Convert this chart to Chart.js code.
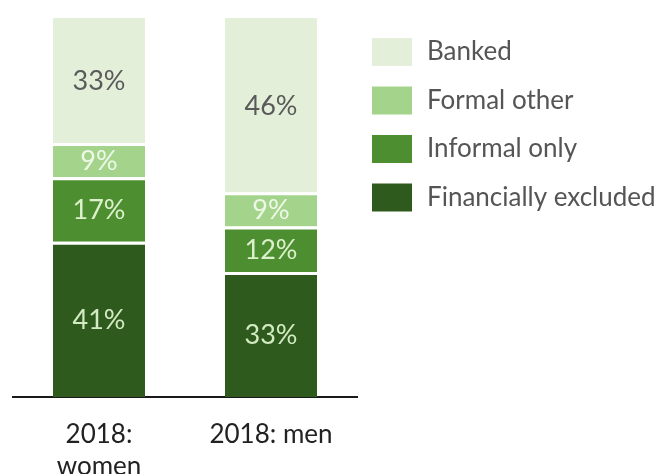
<!DOCTYPE html>
<html>
<head>
<meta charset="utf-8">
<script src="https://cdn.jsdelivr.net/npm/chart.js@4"></script>
<style>
  html, body { margin: 0; padding: 0; background: #fff; overflow: hidden; }
  #wrap { position: relative; width: 661px; height: 498px; }
</style>
</head>
<body>
<div id="wrap"><canvas id="access-chart"></canvas></div>
<script>
// categories and shares (%), bottom segment first
const groups = [["2018:", "women"], "2018: men"]
const excluded = [41, 33]
const informalOnly = [17, 12]
const formalOther = [9, 9]
const banked = [33, 46]

const seriesNames = ["Financially excluded", "Informal only", "Formal other", "Banked"]
const fills = ["#2e5a1d", "#4c8e30", "#a4d48c", "#e3efd9"]
const labelColors = ["#d3ebc2", "#dcf0cc", "#eef8e6", "#5a5a5a"]

const fontFamily = "Lato, 'Open Sans', sans-serif"

// percentage printed in the middle of each segment
const valueLabels = {
    id: 'valueLabels',
    afterDatasetsDraw(chart) {
        const c = chart.ctx
        c.save()
        c.font = `27px ${fontFamily}`
        c.textAlign = 'center'
        c.textBaseline = 'middle'
        chart.data.datasets.forEach((ds, i) => {
            chart.getDatasetMeta(i).data.forEach((bar, j) => {
                c.fillStyle = labelColors[i]
                c.fillText(ds.data[j] + '%', bar.x, (bar.y + bar.base) / 2 + 1)
            })
        })
        c.restore()
    }
}

// legend column to the right of the bars, top series first
const sideLegend = {
    id: 'sideLegend',
    afterDraw(chart) {
        const c = chart.ctx
        const left = 372, top = 38, step = 48.5
        c.save()
        c.font = `26px ${fontFamily}`
        c.textBaseline = 'middle'
        c.textAlign = 'left'
        const order = chart.data.datasets.map((ds, i) => i).reverse()
        order.forEach((i, row) => {
            const y = top + row * step
            c.fillStyle = fills[i]
            c.fillRect(left, y, 40, 28)
            c.fillStyle = '#555'
            c.fillText(chart.data.datasets[i].label, left + 55, y + 14)
        })
        c.restore()
    }
}

const series = [excluded, informalOnly, formalOther, banked]
const datasets = series.map((values, i) => ({
    label: seriesNames[i],
    data: values,
    backgroundColor: fills[i],
    borderColor: '#ffffff',
    borderWidth: i < 3 ? { top: 3, left: 0, right: 0, bottom: 0 } : 0,
    borderSkipped: 'start',
    barPercentage: 0.535,
    categoryPercentage: 1
}))

new Chart(document.getElementById('access-chart'), {
    type: 'bar',
    data: { labels: groups, datasets: datasets },
    options: {
        responsive: true,
        maintainAspectRatio: false,
        animation: false,
        layout: { padding: { left: 13, right: 304, top: 18, bottom: -7 } },
        plugins: {
            legend: { display: false },
            tooltip: { enabled: false }
        },
        scales: {
            x: {
                stacked: true,
                grid: { display: false, drawTicks: false },
                border: { display: true, color: '#1a1a1a', width: 2 },
                ticks: {
                    color: '#222',
                    padding: 22,
                    font: { family: fontFamily, size: 26, lineHeight: 1.23 }
                }
            },
            y: {
                stacked: true,
                display: false,
                min: 0,
                max: 100
            }
        }
    },
    plugins: [valueLabels, sideLegend]
})
</script>
</body>
</html>
